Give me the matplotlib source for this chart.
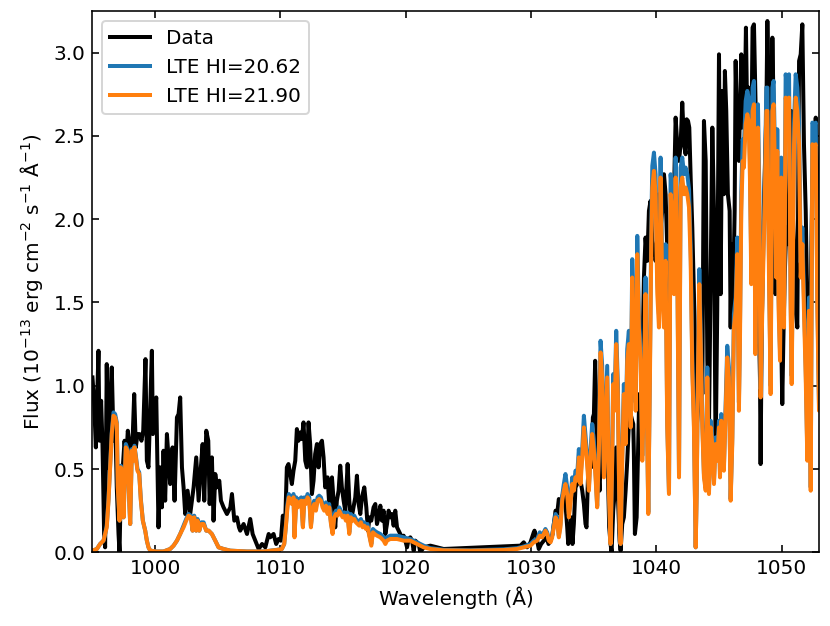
import numpy as np
import matplotlib
matplotlib.use("Agg")
import matplotlib.pyplot as plt

# observed spectrum (wavelength in A, flux in 1e-13 erg/cm2/s/A)
data_wl = [
    995.00, 995.13, 995.27, 995.48, 995.56, 995.69, 995.80, 995.93, 996.01, 996.14,
    996.25, 996.41, 996.54, 996.68, 996.81, 996.94, 997.08, 997.16, 997.26, 997.42,
    997.56, 997.69, 997.82, 997.96, 998.06, 998.19, 998.33, 998.46, 998.59, 998.75,
    998.91, 999.05, 999.23, 999.34, 999.47, 999.74, 999.82, 999.93, 1000.09, 1000.27,
    1000.40, 1000.54, 1000.67, 1000.80, 1000.94, 1001.07, 1001.20, 1001.39, 1001.55, 1001.74,
    1001.87, 1002.00, 1002.14, 1002.27, 1002.40, 1002.59, 1002.80, 1003.07, 1003.28, 1003.47,
    1003.65, 1003.79, 1003.92, 1004.08, 1004.24, 1004.35, 1004.53, 1004.66, 1004.80, 1004.93,
    1005.12, 1005.25, 1005.46, 1005.73, 1006.00, 1006.13, 1006.32, 1006.53, 1006.69, 1006.79,
    1007.06, 1007.33, 1007.59, 1007.78, 1007.99, 1008.26, 1008.53, 1008.79, 1009.06,
    1009.18, 1009.45, 1009.66, 1009.85, 1010.03, 1010.19, 1010.35, 1010.51, 1010.64, 1010.78,
    1010.91, 1011.04, 1011.18, 1011.31, 1011.44, 1011.58, 1011.71, 1011.84, 1011.98, 1012.11,
    1012.24, 1012.37, 1012.51, 1012.64, 1012.77, 1012.91, 1013.04, 1013.17, 1013.31, 1013.44,
    1013.57, 1013.76, 1013.92, 1014.11, 1014.24, 1014.37, 1014.50, 1014.64, 1014.77, 1014.90,
    1015.04, 1015.17, 1015.36, 1015.49, 1015.62, 1015.78, 1015.97, 1016.10, 1016.24, 1016.37,
    1016.50, 1016.69, 1016.85, 1016.98, 1017.11, 1017.25, 1017.43, 1017.57, 1017.70, 1017.83,
    1017.97, 1018.10, 1018.23, 1018.37, 1018.50, 1018.63, 1018.76, 1018.90, 1019.03, 1019.16,
    1019.30, 1019.43, 1019.56, 1019.70, 1019.83, 1019.96, 1020.10, 1020.23, 1020.36, 1020.50,
    1020.63, 1020.76, 1020.89, 1021.03, 1021.16, 1021.43, 1021.96, 1022.49, 1023.02, 1029.15,
    1029.41, 1029.68, 1029.95, 1030.21,
    1030.27, 1030.43, 1030.61, 1030.80, 1031.01, 1031.23, 1031.39, 1031.55, 1031.71, 1031.81,
    1031.95, 1032.08, 1032.21, 1032.34, 1032.48, 1032.61, 1032.74, 1032.88, 1032.96, 1033.09,
    1033.20, 1033.30, 1033.41, 1033.54, 1033.68, 1033.81, 1033.94, 1034.08, 1034.21, 1034.34,
    1034.42, 1034.53, 1034.66, 1034.79, 1034.93, 1035.01, 1035.11, 1035.22, 1035.33, 1035.46,
    1035.59, 1035.73, 1035.86, 1035.99, 1036.13, 1036.23, 1036.34, 1036.42,
    1036.55, 1036.66, 1036.79, 1036.92, 1037.06, 1037.14, 1037.27, 1037.40, 1037.54, 1037.67,
    1037.80, 1037.94, 1038.07, 1038.15, 1038.20, 1038.28, 1038.42, 1038.52, 1038.63, 1038.68,
    1038.79, 1038.89, 1039.00, 1039.13, 1039.27, 1039.40, 1039.53, 1039.67, 1039.80, 1039.93,
    1040.07, 1040.20, 1040.33, 1040.47, 1040.60, 1040.73, 1040.86, 1041.00, 1041.13, 1041.26,
    1041.40, 1041.53, 1041.66, 1041.80, 1041.93, 1042.06, 1042.20, 1042.33, 1042.41, 1042.52,
    1042.62, 1042.73, 1042.86, 1042.99, 1043.13, 1043.21, 1043.31, 1043.42, 1043.53, 1043.66,
    1043.79, 1043.93, 1044.06, 1044.19, 1044.33, 1044.46, 1044.59, 1044.72,
    1044.85, 1044.99, 1045.12, 1045.25, 1045.38, 1045.46, 1045.57, 1045.70, 1045.84, 1045.92,
    1046.00, 1046.10, 1046.24, 1046.32, 1046.45, 1046.58, 1046.66, 1046.77, 1046.85, 1046.93,
    1047.04, 1047.14, 1047.25, 1047.36, 1047.46, 1047.57, 1047.67, 1047.78, 1047.91, 1048.05,
    1048.18, 1048.26, 1048.31, 1048.39, 1048.50, 1048.63, 1048.77, 1048.85, 1048.98, 1049.11,
    1049.25, 1049.33, 1049.41, 1049.49, 1049.59, 1049.70, 1049.83, 1049.96, 1050.04, 1050.12,
    1050.23, 1050.36, 1050.50, 1050.63, 1050.76, 1050.87, 1050.98, 1051.11, 1051.24, 1051.38,
    1051.51, 1051.64, 1051.77, 1051.91, 1052.04, 1052.17, 1052.31, 1052.44, 1052.57, 1052.71,
    1052.84, 1052.97, 1053.10,
]
data_flux = [
    1.05, 0.91, 0.63, 1.21, 0.67, 0.91, 0.65, 0.11, 0.03, 1.13,
    0.51, 0.91, 1.11, 0.67, 0.81, 0.39, 0.11, 0.00, 0.39, 0.51,
    0.67, 0.55, 0.73, 0.65, 0.51, 0.65, 0.95, 0.63, 0.71, 0.71,
    0.67, 0.73, 1.16, 0.55, 0.51, 1.21, 0.71, 0.81, 0.93, 0.15,
    0.51, 0.27, 0.61, 0.31, 0.71, 0.57, 0.41, 0.63, 0.31, 0.81,
    0.83, 0.93, 0.51, 0.39, 0.23, 0.37, 0.23, 0.39, 0.57, 0.31,
    0.51, 0.65, 0.31, 0.73, 0.67, 0.29, 0.57, 0.19, 0.47, 0.39,
    0.43, 0.31, 0.27, 0.23, 0.27, 0.35, 0.19, 0.21, 0.15, 0.13,
    0.17, 0.11, 0.20, 0.11, 0.07, 0.02, 0.05, 0.03, 0.11,
    0.09, 0.11, 0.05, 0.08, 0.07, 0.22, 0.11, 0.51, 0.53, 0.47,
    0.41, 0.49, 0.55, 0.74, 0.67, 0.72, 0.68, 0.78, 0.55, 0.51,
    0.78, 0.65, 0.35, 0.43, 0.59, 0.65, 0.51, 0.65, 0.67, 0.57,
    0.39, 0.45, 0.25, 0.45, 0.31, 0.15, 0.31, 0.37, 0.52, 0.39,
    0.31, 0.25, 0.53, 0.31, 0.19, 0.25, 0.33, 0.46, 0.29, 0.23,
    0.33, 0.39, 0.27, 0.13, 0.21, 0.19, 0.27, 0.29, 0.17, 0.21,
    0.28, 0.19, 0.25, 0.11, 0.17, 0.25, 0.21, 0.23, 0.16, 0.25,
    0.15, 0.13, 0.11, 0.09, 0.10, 0.07, 0.03, 0.08, 0.09, 0.07,
    0.01, 0.07, 0.06, 0.05, 0.00, 0.03, 0.04, 0.03, 0.02, 0.04,
    0.06, 0.03, 0.06, 0.12,
    0.13, 0.09, 0.02, 0.05, 0.07, 0.09, 0.05, 0.07, 0.11, 0.17,
    0.25, 0.23, 0.32, 0.29, 0.33, 0.37, 0.29, 0.15, 0.05, 0.09,
    0.21, 0.05, 0.17, 0.39, 0.41, 0.49, 0.43, 0.37, 0.29, 0.17,
    0.15, 0.43, 0.59, 0.51, 0.81, 0.83, 1.15, 0.81, 0.53, 0.37,
    0.61, 0.81, 0.69, 0.49, 0.47, 0.15, 0.05, 0.00,
    0.25, 0.35, 0.63, 0.35, 0.07, 0.01, 0.17, 0.21, 0.37, 0.55,
    0.77, 0.83, 0.79, 0.77, 0.59, 0.11, 0.21, 0.55, 0.95, 0.63,
    0.85, 1.19, 1.65, 1.89, 1.75, 2.05, 2.11, 1.87, 1.83, 1.75,
    1.83, 2.15, 1.95, 2.05, 2.27, 2.15, 1.83, 1.55, 1.75, 2.21,
    2.15, 2.61, 2.45, 2.35, 2.45, 2.70, 2.45, 2.39, 2.60, 2.59,
    2.55, 2.25, 1.95, 1.55, 0.95, 0.75, 0.85, 1.67, 1.55, 0.95,
    2.59, 2.35, 1.15, 0.75, 1.67, 2.55, 2.05, 0.55,
    1.45, 2.99, 1.55, 2.77, 2.15, 2.89, 2.65, 2.15, 2.05, 1.35,
    1.85, 1.45, 2.05, 2.95, 2.45, 2.35, 2.65, 2.99, 2.55, 2.95,
    2.65, 3.15, 2.55, 2.79, 2.75, 2.45, 3.15, 3.17, 2.69, 1.85,
    1.35, 1.05, 0.53, 1.25, 1.85, 2.25, 2.65, 3.19, 2.65, 2.05,
    3.09, 2.75, 2.25, 1.55, 2.05, 2.35, 1.85, 1.25, 0.89, 1.25,
    1.65, 1.95, 1.85, 2.35, 2.65, 2.05, 1.85, 1.45, 1.35, 2.95,
    2.99, 3.17, 2.45, 2.05, 1.45, 1.35, 1.55, 2.25, 2.41, 2.61,
    2.25, 1.65, 1.45,
]

# LTE model spectra on a common wavelength grid
model_wl = [
    995.00, 995.35, 995.61, 995.88, 996.01, 996.14, 996.28, 996.41, 996.54, 996.68,
    996.81, 996.94, 997.02, 997.16, 997.26, 997.40, 997.48, 997.56, 997.66, 997.80,
    997.93, 998.01, 998.14, 998.27, 998.35, 998.46, 998.59, 998.73, 998.86, 999.02,
    999.21, 999.34, 999.47, 999.61, 1000.14, 1000.67, 1001.20, 1001.47, 1001.74, 1002.00,
    1002.27, 1002.48, 1002.67, 1002.85, 1002.99, 1003.12, 1003.28, 1003.39, 1003.52, 1003.68,
    1003.87, 1004.08, 1004.27, 1004.53, 1004.80, 1005.06, 1005.46, 1006.00, 1007.33, 1008.66,
    1009.72, 1010.11, 1010.30, 1010.43, 1010.56, 1010.67, 1010.78, 1010.91, 1011.04, 1011.12,
    1011.26, 1011.39, 1011.52, 1011.66, 1011.79, 1011.90, 1012.03, 1012.16, 1012.30, 1012.43,
    1012.56, 1012.69, 1012.83, 1012.96, 1013.09, 1013.23, 1013.36, 1013.49, 1013.63, 1013.76,
    1013.89, 1014.03, 1014.16, 1014.29, 1014.43, 1014.56, 1014.69, 1014.82, 1014.96, 1015.09,
    1015.22, 1015.36, 1015.49, 1015.62, 1015.76, 1015.89, 1016.02, 1016.16, 1016.29, 1016.42,
    1016.56, 1016.69, 1016.82, 1016.95, 1017.11, 1017.25, 1017.38, 1017.51, 1017.70, 1017.97,
    1018.23, 1018.37, 1018.50, 1018.76, 1019.30, 1019.83, 1020.36, 1020.89, 1021.43, 1021.96,
    1023.02, 1025.15, 1027.82, 1028.88, 1029.41, 1029.95, 1030.21, 1030.48, 1030.69, 1030.88,
    1031.01, 1031.14, 1031.28, 1031.41, 1031.55, 1031.68, 1031.81, 1031.95, 1032.08, 1032.21,
    1032.34, 1032.48, 1032.61, 1032.74, 1032.88, 1033.01, 1033.14, 1033.28, 1033.41, 1033.54,
    1033.68, 1033.81, 1033.94, 1034.08, 1034.21, 1034.34, 1034.47, 1034.61, 1034.74, 1034.87,
    1035.01, 1035.14, 1035.27, 1035.41, 1035.54, 1035.67, 1035.81, 1035.94, 1036.07, 1036.21,
    1036.34, 1036.47, 1036.55, 1036.66, 1036.79, 1036.92, 1037.06, 1037.14, 1037.27, 1037.40,
    1037.54, 1037.67, 1037.80, 1037.94, 1038.07, 1038.20, 1038.34, 1038.47, 1038.60, 1038.73,
    1038.87, 1039.00, 1039.13, 1039.27, 1039.35, 1039.48, 1039.59, 1039.67, 1039.80, 1039.93,
    1040.07, 1040.20, 1040.33, 1040.47, 1040.60, 1040.73, 1040.86, 1041.00, 1041.13, 1041.26,
    1041.40, 1041.53, 1041.66, 1041.80, 1041.93, 1042.06, 1042.20, 1042.33, 1042.46, 1042.60,
    1042.73, 1042.86, 1042.99, 1043.13, 1043.21, 1043.31, 1043.42, 1043.53, 1043.66, 1043.79,
    1043.93, 1044.06, 1044.19, 1044.33, 1044.45, 1044.59, 1044.72, 1044.85, 1044.99, 1045.07,
    1045.17, 1045.25, 1045.38, 1045.52, 1045.65, 1045.78, 1045.92, 1046.05, 1046.18, 1046.32,
    1046.45, 1046.58, 1046.66, 1046.77, 1046.88, 1046.98, 1047.12, 1047.25, 1047.36, 1047.46,
    1047.57, 1047.67, 1047.78, 1047.89, 1047.99, 1048.10, 1048.21, 1048.31, 1048.39, 1048.50,
    1048.63, 1048.77, 1048.85, 1048.98, 1049.11, 1049.25, 1049.35, 1049.46, 1049.56, 1049.64,
    1049.75, 1049.86, 1049.96, 1050.04, 1050.18, 1050.31, 1050.44, 1050.58, 1050.71, 1050.79,
    1050.90, 1050.98, 1051.11, 1051.24, 1051.38, 1051.51, 1051.64, 1051.77, 1051.91, 1052.04,
    1052.17, 1052.31, 1052.44, 1052.57, 1052.71, 1052.84, 1052.97, 1053.10,
]
lte_2062_flux = [
    0.01, 0.02, 0.05, 0.07, 0.11, 0.16, 0.32, 0.52, 0.72, 0.84,
    0.83, 0.78, 0.40, 0.19, 0.52, 0.48, 0.21, 0.40, 0.65, 0.62,
    0.32, 0.17, 0.62, 0.56, 0.64, 0.58, 0.50, 0.48, 0.32, 0.19,
    0.13, 0.07, 0.03, 0.01, 0.005, 0.005, 0.02, 0.04, 0.07, 0.11,
    0.16, 0.20, 0.23, 0.22, 0.13, 0.22, 0.13, 0.20, 0.13, 0.18,
    0.18, 0.13, 0.13, 0.11, 0.07, 0.03, 0.02, 0.01, 0.005, 0.005,
    0.015, 0.02, 0.05, 0.16, 0.29, 0.35, 0.33, 0.31, 0.35, 0.10,
    0.33, 0.29, 0.32, 0.33, 0.16, 0.33, 0.31, 0.35, 0.33, 0.16,
    0.27, 0.31, 0.27, 0.33, 0.34, 0.33, 0.29, 0.27, 0.30, 0.25,
    0.29, 0.18, 0.12, 0.23, 0.25, 0.24, 0.27, 0.25, 0.23, 0.24,
    0.21, 0.24, 0.12, 0.23, 0.21, 0.22, 0.20, 0.19, 0.18, 0.20,
    0.17, 0.18, 0.16, 0.17, 0.10, 0.05, 0.14, 0.13, 0.12, 0.11,
    0.09, 0.06, 0.09, 0.10, 0.10, 0.09, 0.08, 0.06, 0.04, 0.025,
    0.015, 0.012, 0.018, 0.025, 0.035, 0.05, 0.07, 0.08, 0.12, 0.10,
    0.12, 0.14, 0.12, 0.08, 0.07, 0.10, 0.17, 0.23, 0.21, 0.10,
    0.17, 0.34, 0.41, 0.47, 0.39, 0.23, 0.32, 0.45, 0.40, 0.49,
    0.47, 0.62, 0.44, 0.62, 0.82, 0.70, 0.57, 0.39, 0.61, 0.77,
    0.66, 0.48, 0.28, 0.66, 1.27, 1.12, 0.47, 0.80, 1.12, 0.36,
    0.05, 0.58, 1.07, 0.90, 1.33, 1.01, 0.16, 0.05, 0.58, 1.01,
    0.68, 1.22, 1.33, 0.79, 1.76, 1.33, 0.90, 1.90, 1.43, 1.22,
    0.58, 1.01, 1.65, 0.69, 0.24, 1.12, 1.97, 2.32, 2.40, 2.27,
    1.64, 1.43, 2.37, 1.64, 1.43, 1.85, 0.79, 0.36, 2.27, 2.16,
    1.64, 2.37, 1.85, 0.47, 2.31, 2.37, 2.27, 2.31, 2.27, 2.18,
    1.84, 1.15, 0.79, 0.03, 0.37, 1.11, 1.70, 1.32, 0.79, 0.47,
    0.39, 1.11, 0.37, 0.79, 0.69, 0.43, 0.69, 0.58, 0.79, 0.47,
    0.83, 0.77, 0.51, 0.90, 1.24, 1.11, 0.32, 0.69, 1.43, 1.53,
    1.89, 0.90, 1.32, 2.16, 2.48, 2.44, 2.71, 2.77, 2.73, 2.37,
    1.70, 2.79, 2.83, 1.25, 1.95, 2.69, 2.16, 0.98, 1.32, 1.74,
    2.16, 2.79, 2.79, 1.74, 1.00, 2.79, 2.83, 2.37, 1.74, 2.54,
    1.53, 1.21, 2.37, 1.95, 1.42, 2.87, 2.79, 2.87, 1.53, 1.06,
    1.95, 2.58, 2.87, 2.79, 2.58, 1.74, 1.95, 1.53, 1.11, 0.58,
    1.53, 0.39, 2.58, 2.56, 2.58, 1.53, 0.89, 1.89,
]
lte_2190_flux = [
    0.01, 0.02, 0.05, 0.07, 0.11, 0.15, 0.31, 0.51, 0.71, 0.82,
    0.81, 0.77, 0.39, 0.19, 0.51, 0.47, 0.21, 0.39, 0.63, 0.61,
    0.31, 0.17, 0.61, 0.55, 0.63, 0.57, 0.49, 0.47, 0.31, 0.19,
    0.13, 0.07, 0.03, 0.01, 0.005, 0.005, 0.02, 0.04, 0.07, 0.11,
    0.15, 0.19, 0.22, 0.21, 0.13, 0.21, 0.13, 0.19, 0.13, 0.17,
    0.17, 0.13, 0.13, 0.11, 0.07, 0.03, 0.02, 0.01, 0.005, 0.005,
    0.014, 0.02, 0.05, 0.15, 0.27, 0.33, 0.31, 0.29, 0.33, 0.09,
    0.31, 0.27, 0.30, 0.31, 0.15, 0.31, 0.29, 0.33, 0.31, 0.15,
    0.25, 0.29, 0.25, 0.31, 0.32, 0.31, 0.27, 0.25, 0.28, 0.23,
    0.27, 0.17, 0.11, 0.21, 0.23, 0.22, 0.25, 0.23, 0.21, 0.22,
    0.19, 0.22, 0.11, 0.21, 0.19, 0.20, 0.18, 0.17, 0.16, 0.18,
    0.15, 0.16, 0.14, 0.15, 0.09, 0.04, 0.12, 0.11, 0.10, 0.09,
    0.07, 0.05, 0.07, 0.08, 0.08, 0.07, 0.07, 0.05, 0.03, 0.02,
    0.012, 0.01, 0.014, 0.02, 0.03, 0.04, 0.06, 0.07, 0.10, 0.09,
    0.11, 0.13, 0.11, 0.07, 0.06, 0.09, 0.15, 0.21, 0.19, 0.09,
    0.15, 0.31, 0.37, 0.41, 0.35, 0.21, 0.29, 0.41, 0.37, 0.45,
    0.43, 0.57, 0.41, 0.57, 0.75, 0.65, 0.53, 0.37, 0.57, 0.71,
    0.61, 0.45, 0.27, 0.61, 1.20, 1.05, 0.45, 0.75, 1.05, 0.35,
    0.05, 0.55, 1.01, 0.85, 1.25, 0.95, 0.15, 0.05, 0.55, 0.95,
    0.65, 1.15, 1.25, 0.75, 1.65, 1.25, 0.85, 1.79, 1.35, 1.15,
    0.55, 0.95, 1.55, 0.65, 0.23, 1.05, 1.85, 2.19, 2.29, 2.15,
    1.55, 1.35, 2.25, 1.55, 1.35, 1.75, 0.75, 0.35, 2.15, 2.05,
    1.55, 2.25, 1.75, 0.45, 2.19, 2.25, 2.15, 2.19, 2.15, 2.07,
    1.75, 1.09, 0.75, 0.03, 0.35, 1.05, 1.61, 1.25, 0.75, 0.45,
    0.37, 1.05, 0.35, 0.75, 0.65, 0.41, 0.65, 0.55, 0.75, 0.45,
    0.79, 0.73, 0.49, 0.85, 1.17, 1.05, 0.31, 0.65, 1.35, 1.45,
    1.79, 0.85, 1.25, 2.05, 2.35, 2.31, 2.57, 2.63, 2.59, 2.25,
    1.61, 2.65, 2.69, 1.19, 1.85, 2.55, 2.05, 0.93, 1.25, 1.65,
    2.05, 2.65, 2.65, 1.65, 0.95, 2.65, 2.69, 2.25, 1.65, 2.41,
    1.45, 1.15, 2.25, 1.85, 1.35, 2.73, 2.65, 2.73, 1.45, 1.01,
    1.85, 2.45, 2.73, 2.65, 2.45, 1.65, 1.85, 1.45, 1.05, 0.55,
    1.45, 0.37, 2.45, 2.43, 2.45, 1.45, 0.85, 1.79,
]

fig = plt.figure(figsize=(830 / 144, 626 / 144), dpi=144)
ax = fig.add_axes([0.1114, 0.1177, 0.8758, 0.8647])

ax.plot(data_wl, data_flux, color='black', lw=2, label='Data')
ax.plot(model_wl, lte_2062_flux, color='#1f77b4', lw=2, label='LTE HI=20.62')
ax.plot(model_wl, lte_2190_flux, color='#ff7f0e', lw=2, label='LTE HI=21.90')

ax.set_xlim(995, 1053)
ax.set_ylim(0, 3.25)
ax.set_xticks(np.arange(1000, 1051, 10))
ax.set_yticks(np.arange(0, 3.01, 0.5))
ax.tick_params(direction='in', top=True, right=True)

ax.set_xlabel('Wavelength (Å)')
ax.set_ylabel('Flux ($10^{-13}$ erg cm$^{-2}$ s$^{-1}$ Å$^{-1}$)')
ax.legend(loc='upper left')

fig.savefig('out.png', dpi=144)
